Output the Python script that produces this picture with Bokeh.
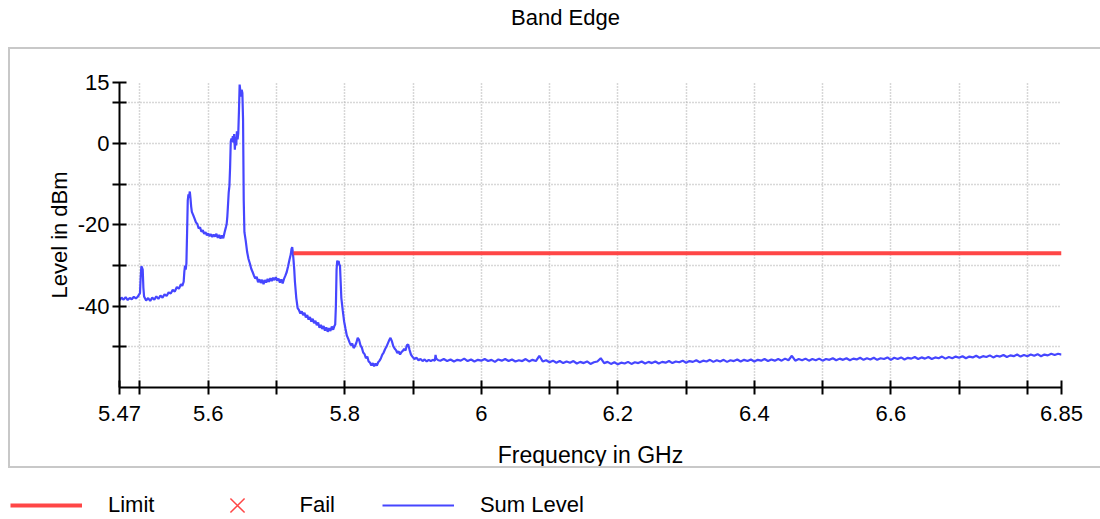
import numpy as np
from bokeh.plotting import figure
from bokeh.models import FixedTicker, Legend, LegendItem, Range1d, Spacer
from bokeh.layouts import column, row
from bokeh.embed import file_html
from bokeh.resources import INLINE
from bokeh.core.properties import value

# ---------------- data ----------------
TITLE = "Band Edge"
X_LABEL = "Frequency in GHz"
Y_LABEL = "Level in dBm"
legend_labels = ["Limit", "Fail", "Sum Level"]

x_min, x_max = 5.47, 6.85
y_min, y_max = -60, 15
x_ticks = [5.47, 5.5, 5.6, 5.7, 5.8, 5.9, 6.0, 6.1, 6.2, 6.3, 6.4, 6.5, 6.6, 6.7, 6.8, 6.85]
x_tick_labels = ["5.47", "", "5.6", "", "5.8", "", "6", "", "6.2", "", "6.4", "", "6.6", "", "", "6.85"]
y_ticks = [-50, -40, -30, -20, -10, 0, 10, 15]
y_tick_labels = ["", "-40", "", "-20", "", "0", "", "15"]

limit_freq = [5.725, 6.85]
limit_level = [-27.0, -27.0]

fail_freq = []
fail_level = []

# Sum level trace, 5.47 .. 5.937 GHz (freq GHz, level dBm)
trace_points = [
    (5.470, -38.6), (5.473, -37.9), (5.476, -38.4), (5.479, -37.8), (5.482, -38.5), (5.485, -38.0), (5.488, -38.3), (5.491, -37.7), (5.494, -38.1), (5.497, -37.6),
    (5.500, -36.8), (5.501, -33.0), (5.502, -30.2), (5.503, -30.5), (5.504, -31.0), (5.505, -35.5), (5.506, -37.6), (5.509, -38.6), (5.512, -38.0), (5.515, -38.7),
    (5.518, -37.9), (5.521, -38.4), (5.524, -37.6), (5.527, -38.2), (5.530, -37.4), (5.533, -37.9), (5.536, -37.1), (5.539, -37.5), (5.542, -36.6), (5.545, -36.9),
    (5.548, -36.0), (5.551, -36.4), (5.554, -35.3), (5.557, -35.7), (5.560, -34.6), (5.562, -35.0), (5.564, -34.0), (5.565, -31.5), (5.566, -30.0), (5.567, -31.0),
    (5.568, -29.5), (5.569, -22.0), (5.570, -14.0), (5.571, -12.5), (5.572, -13.0), (5.573, -11.8), (5.574, -13.5), (5.575, -15.5), (5.576, -16.8), (5.578, -17.6),
    (5.580, -18.5), (5.582, -19.4), (5.584, -19.8), (5.586, -20.9), (5.588, -20.6), (5.590, -21.7), (5.592, -21.3), (5.594, -22.2), (5.596, -21.8), (5.598, -22.6),
    (5.600, -22.1), (5.602, -22.8), (5.604, -22.3), (5.606, -23.0), (5.608, -22.4), (5.610, -22.9), (5.612, -22.2), (5.614, -23.2), (5.616, -22.5), (5.618, -23.4),
    (5.620, -22.6), (5.622, -23.3), (5.624, -21.8), (5.626, -20.5), (5.627, -19.8), (5.628, -17.9), (5.629, -15.0), (5.630, -12.0), (5.631, -10.5), (5.632, -6.0),
    (5.633, 0.5), (5.634, 1.2), (5.635, 0.4), (5.636, 1.8), (5.637, 0.2), (5.638, 2.3), (5.639, -1.5), (5.640, 1.6), (5.641, -0.5), (5.642, 3.0),
    (5.643, 1.0), (5.644, 2.5), (5.645, 8.0), (5.646, 14.5), (5.647, 13.0), (5.648, 11.5), (5.649, 13.2), (5.650, 12.4), (5.651, 6.0), (5.652, -14.0),
    (5.653, -21.8), (5.655, -24.0), (5.657, -26.7), (5.659, -28.4), (5.661, -29.5), (5.663, -30.8), (5.665, -31.6), (5.667, -32.5), (5.669, -33.2), (5.671, -32.8),
    (5.673, -34.1), (5.675, -33.4), (5.677, -34.3), (5.679, -33.5), (5.681, -34.6), (5.683, -33.6), (5.685, -34.2), (5.687, -33.3), (5.689, -34.0), (5.691, -33.1),
    (5.693, -33.8), (5.695, -33.0), (5.697, -33.6), (5.699, -32.9), (5.701, -33.7), (5.703, -33.2), (5.705, -34.2), (5.707, -33.4), (5.709, -34.4), (5.711, -33.3),
    (5.713, -32.5), (5.715, -31.6), (5.717, -30.2), (5.719, -28.6), (5.721, -27.2), (5.722, -25.9), (5.723, -25.5), (5.724, -26.8), (5.725, -28.8), (5.726, -31.0),
    (5.727, -34.0), (5.729, -38.0), (5.731, -40.5), (5.733, -41.0), (5.735, -41.8), (5.737, -41.3), (5.739, -42.2), (5.741, -41.6), (5.743, -42.8), (5.745, -42.2),
    (5.747, -43.3), (5.749, -42.7), (5.751, -43.8), (5.753, -43.1), (5.755, -44.2), (5.757, -43.6), (5.759, -44.7), (5.761, -44.0), (5.763, -45.3), (5.765, -44.6),
    (5.767, -45.6), (5.769, -44.9), (5.771, -46.0), (5.773, -45.2), (5.775, -46.3), (5.777, -45.4), (5.779, -46.1), (5.781, -45.0), (5.783, -45.8), (5.785, -44.8),
    (5.786, -44.5), (5.787, -40.0), (5.788, -31.0), (5.789, -28.8), (5.790, -29.4), (5.791, -28.9), (5.792, -29.8), (5.793, -30.0), (5.794, -34.0), (5.795, -38.0),
    (5.797, -41.0), (5.799, -43.7), (5.801, -45.5), (5.803, -47.2), (5.805, -48.0), (5.807, -48.9), (5.809, -49.6), (5.811, -49.2), (5.813, -50.3), (5.815, -49.8),
    (5.817, -49.0), (5.819, -47.8), (5.821, -48.3), (5.823, -49.6), (5.825, -50.2), (5.827, -51.4), (5.829, -51.8), (5.831, -52.8), (5.833, -52.4), (5.835, -53.6),
    (5.837, -53.9), (5.839, -54.6), (5.841, -54.0), (5.843, -54.8), (5.845, -54.1), (5.847, -54.6), (5.849, -53.8), (5.851, -53.4), (5.853, -52.8), (5.855, -51.9),
    (5.857, -51.4), (5.859, -50.6), (5.861, -50.0), (5.863, -49.2), (5.865, -48.4), (5.867, -47.8), (5.869, -48.6), (5.871, -49.8), (5.873, -50.4), (5.875, -50.8),
    (5.877, -51.5), (5.879, -51.1), (5.881, -51.9), (5.883, -51.3), (5.885, -51.0), (5.887, -50.5), (5.889, -50.9), (5.891, -49.6), (5.893, -49.4), (5.895, -50.8),
    (5.897, -51.9), (5.899, -52.4), (5.902, -53.0), (5.905, -52.7), (5.908, -53.3), (5.911, -53.0), (5.914, -53.5), (5.917, -53.1), (5.920, -53.6), (5.923, -53.2),
    (5.926, -53.5), (5.929, -53.2), (5.932, -53.4), (5.933, -52.0), (5.934, -52.9), (5.937, -53.3),
]

# Noise floor, sweep points every 5 MHz from 5.940 to 6.850 GHz (dBm)
floor_start, floor_step = 5.940, 0.005
floor_level = [
    -53.4, -53.0, -53.5, -53.1, -53.6, -53.2, -53.4, -52.9, -53.5, -53.1,
    -53.6, -53.2, -53.4, -53.0, -53.5, -53.2, -53.7, -53.1, -53.4, -53.0,
    -53.5, -53.1, -53.6, -53.3, -53.5, -53.0, -53.6, -53.2, -53.5, -52.2,
    -53.6, -53.3, -53.8, -53.4, -53.9, -53.5, -54.0, -53.6, -53.9, -53.5,
    -54.1, -53.7, -54.0, -53.6, -54.2, -53.8, -53.6, -52.8, -54.0, -53.7,
    -54.2, -53.8, -54.3, -53.9, -54.1, -53.7, -54.2, -53.8, -54.0, -53.6,
    -54.1, -53.7, -54.0, -53.6, -54.1, -53.7, -53.9, -53.5, -54.0, -53.6,
    -53.8, -53.4, -53.9, -53.5, -53.7, -53.3, -53.8, -53.4, -53.6, -53.2,
    -53.7, -53.3, -53.6, -53.2, -53.7, -53.3, -53.5, -53.1, -53.6, -53.2,
    -53.5, -53.1, -53.6, -53.2, -53.4, -53.0, -53.5, -53.1, -53.4, -53.0,
    -53.4, -52.9, -53.3, -52.2, -53.4, -53.0, -53.3, -52.9, -53.4, -53.0,
    -53.3, -52.9, -53.4, -53.0, -53.2, -52.8, -53.3, -52.9, -53.2, -52.8,
    -53.3, -52.9, -53.1, -52.7, -53.2, -52.8, -53.1, -52.7, -53.2, -52.8,
    -53.0, -52.6, -53.2, -52.7, -53.0, -52.6, -53.1, -52.7, -52.9, -52.5,
    -53.0, -52.6, -52.9, -52.5, -53.0, -52.6, -52.8, -52.4, -52.9, -52.5,
    -52.8, -52.4, -52.7, -52.3, -52.8, -52.4, -52.6, -52.2, -52.7, -52.3,
    -52.5, -52.1, -52.6, -52.2, -52.4, -52.0, -52.5, -52.1, -52.3, -51.9,
    -52.4, -52.0, -52.3, -51.9, -52.2, -51.8, -52.3, -51.9, -52.1, -51.7,
    -52.0, -51.7, -51.9,
]

# ---------------- build ----------------
FONT = "Liberation Sans"
BLUE = "#4646ff"
RED = "#ff4646"
BORDER = "2px solid #c8c8c8"

floor_freq = [round(floor_start + i * floor_step, 3) for i in range(len(floor_level))]
sum_freq = [f for f, _ in trace_points] + floor_freq
sum_level = [l for _, l in trace_points] + floor_level

# title strip (page y 0..47)
t = figure(width=1100, height=47, x_range=Range1d(0, 1100), y_range=Range1d(0, 47),
           x_axis_type=None, y_axis_type=None, output_backend="svg",
           toolbar_location=None, min_border=0, frame_align=False)
t.outline_line_color = None
t.grid.visible = False
t.text(x=[565], y=[30.5], text=[TITLE], text_font=value(FONT), text_font_size="22px",
       text_align="center", text_baseline="middle", text_color="black")

# main chart (bordered box, page x 8..1100, y 47..468)
p = figure(width=1092, height=421,
           x_range=Range1d(x_min, x_max), y_range=Range1d(y_min, y_max),
           output_backend="svg", toolbar_location=None, frame_align=False,
           min_border_left=109, min_border_right=41, min_border_top=33, min_border_bottom=76,
           styles={"border-top": BORDER, "border-left": BORDER, "border-bottom": BORDER})
p.outline_line_color = None
p.background_fill_color = "white"

p.xaxis.ticker = FixedTicker(ticks=x_ticks)
p.yaxis.ticker = FixedTicker(ticks=y_ticks)
p.xaxis.major_label_overrides = {t_: l_ for t_, l_ in zip(x_ticks, x_tick_labels)}
p.yaxis.major_label_overrides = {t_: l_ for t_, l_ in zip(y_ticks, y_tick_labels)}
p.xaxis.axis_label = X_LABEL
p.yaxis.axis_label = Y_LABEL

for ax in (p.xaxis[0], p.yaxis[0]):
    ax.axis_line_width = 2
    ax.axis_line_color = "black"
    ax.major_tick_line_width = 2
    ax.major_tick_line_color = "black"
    ax.major_tick_in = 7
    ax.major_tick_out = 7
    ax.minor_tick_line_color = None
    ax.major_label_text_font = FONT
    ax.major_label_text_font_size = "22px"
    ax.major_label_text_color = "black"
    ax.axis_label_text_font = FONT
    ax.axis_label_text_font_style = "normal"
    ax.axis_label_text_color = "black"

p.xaxis.axis_label_text_font_size = "23px"
p.yaxis.axis_label_text_font_size = "22px"
p.xaxis.major_label_standoff = 11
p.yaxis.major_label_standoff = 3
p.xaxis.axis_label_standoff = 18
p.yaxis.axis_label_standoff = 3

for g in (p.xgrid[0], p.ygrid[0]):
    g.grid_line_color = "#b0b0b0"
    g.grid_line_width = 1.5
    g.grid_line_dash = "1 2"

p.line(x=sum_freq, y=sum_level, line_color=BLUE, line_width=2.2)
p.line(x=limit_freq, y=limit_level, line_color=RED, line_width=4)
p.scatter(x=fail_freq, y=fail_level, marker="x", size=12, line_color=RED)

main_row = row(Spacer(width=8, height=421), p, spacing=0)

# legend strip (page y 468..519)
lg = figure(width=1100, height=51, x_range=Range1d(0, 1100), y_range=Range1d(0, 51),
            x_axis_type=None, y_axis_type=None, output_backend="svg",
            toolbar_location=None, min_border=0, frame_align=False)
lg.outline_line_color = None
lg.grid.visible = False
nan = np.array([np.nan])
r_lim = lg.line(x=nan, y=nan, line_color=RED, line_width=4)
r_fail = lg.scatter(x=nan, y=nan, marker="x", size=12, line_color=RED, line_width=1.5)
r_sum = lg.line(x=nan, y=nan, line_color=BLUE, line_width=2)
legend = Legend(items=[LegendItem(label=legend_labels[0], renderers=[r_lim]),
                       LegendItem(label=legend_labels[1], renderers=[r_fail]),
                       LegendItem(label=legend_labels[2], renderers=[r_sum])],
                orientation="horizontal", location=(10, -11),
                glyph_width=72, glyph_height=50, label_standoff=26, spacing=47,
                padding=0, margin=0, border_line_color=None, background_fill_alpha=0,
                label_text_font=FONT, label_text_font_size="22px", label_text_color="black")
lg.add_layout(legend)

layout = column(t, main_row, lg, spacing=0)
open("out.html", "w").write(file_html(layout, INLINE))
